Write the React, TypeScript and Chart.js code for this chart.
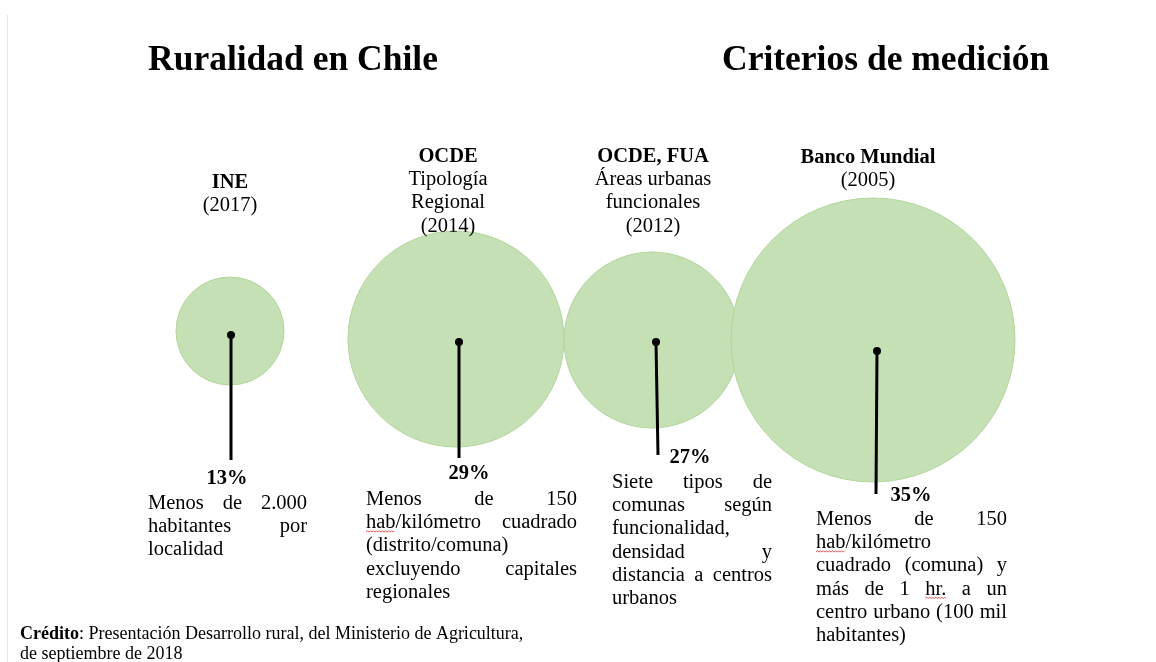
import React, { useEffect, useRef } from "react";
import { Chart, registerables } from "chart.js";

Chart.register(...registerables);

// ---- data ----
const criteria = ["INE", "OCDE", "OCDE, FUA", "Banco Mundial"];
const headingLines = [
  ["(2017)"],
  ["Tipología", "Regional", "(2014)"],
  ["Áreas urbanas", "funcionales", "(2012)"],
  ["(2005)"],
];
const ruralShare = [13, 29, 27, 35];
const descriptions = [
  ["Menos de 2.000", "habitantes por", "localidad"],
  ["Menos de 150", "hab/kilómetro cuadrado", "(distrito/comuna)", "excluyendo capitales", "regionales"],
  ["Siete tipos de", "comunas según", "funcionalidad,", "densidad y", "distancia a centros", "urbanos"],
  ["Menos de 150", "hab/kilómetro", "cuadrado (comuna) y", "más de 1 hr. a un", "centro urbano (100 mil", "habitantes)"],
];
const bubbleX = [230, 456, 652, 873];
const bubbleY = [331, 339, 340, 340];
const bubbleR = [54, 108, 88, 142];
const anchorX = [231, 459, 656, 877];
const anchorY = [335, 342, 342, 351];
const stickEndX = [231, 459, 658, 876];
const stickEndY = [460, 458, 455, 494];

const mainTitle = "Ruralidad en Chile";
const sideTitle = "Criterios de medición";
const creditLabel = "Crédito";
const creditLines = [": Presentación Desarrollo rural, del Ministerio de Agricultura,", "de septiembre de 2018"];

// ---- layout (text placement) ----
const SERIF = "'Liberation Serif', 'Times New Roman', serif";
const headingCenterX = [230, 448, 653, 868];
const headingBaseline = [188, 162, 162, 163];
const percentCenterX = [227, 469, 690, 911];
const percentBaseline = [484, 479, 463, 501];
const descLeft = [148, 366, 612, 816];
const descRight = [307, 577, 772, 1007];
const descBaseline = [509, 505, 488, 525];
const squiggles = [
  [],
  [{ line: 1, word: 0, text: "hab" }],
  [],
  [
    { line: 1, word: 0, text: "hab" },
    { line: 3, word: 3, text: "hr." },
  ],
];

function drawSquiggle(ctx: CanvasRenderingContext2D, x0: number, x1: number, y: number) {
  ctx.save();
  ctx.strokeStyle = "#e04040";
  ctx.lineWidth = 0.9;
  ctx.beginPath();
  let up = true;
  ctx.moveTo(x0, y);
  for (let x = x0 + 1.5; x <= x1; x += 1.5) {
    ctx.lineTo(x, up ? y - 1 : y + 0.5);
    up = !up;
  }
  ctx.stroke();
  ctx.restore();
}

const textPlugin = {
  id: "infographicText",
  beforeDraw(chart: any) {
    const ctx = chart.ctx as CanvasRenderingContext2D;
    ctx.save();
    ctx.fillStyle = "#ffffff";
    ctx.fillRect(0, 0, chart.width, chart.height);
    ctx.strokeStyle = "#e4e4e4";
    ctx.lineWidth = 1;
    ctx.beginPath();
    ctx.moveTo(7.5, 15);
    ctx.lineTo(7.5, chart.height);
    ctx.stroke();
    ctx.restore();
  },
  afterDraw(chart: any) {
    const ctx = chart.ctx as CanvasRenderingContext2D;
    ctx.save();
    ctx.fillStyle = "#000000";
    ctx.textBaseline = "alphabetic";

    // titles
    ctx.font = `bold 35.5px ${SERIF}`;
    ctx.textAlign = "left";
    ctx.fillText(mainTitle, 148, 70);
    ctx.fillText(sideTitle, 722, 70);

    const step = 23.2;
    const body = `20.5px ${SERIF}`;
    const bold = `bold 20.5px ${SERIF}`;

    criteria.forEach((name, i) => {
      // heading
      ctx.textAlign = "center";
      ctx.font = bold;
      ctx.fillText(name, headingCenterX[i], headingBaseline[i]);
      ctx.font = body;
      headingLines[i].forEach((ln, j) => {
        ctx.fillText(ln, headingCenterX[i], headingBaseline[i] + step * (j + 1));
      });

      // percent
      ctx.font = bold;
      ctx.fillText(`${ruralShare[i]}%`, percentCenterX[i], percentBaseline[i]);

      // justified description
      ctx.font = body;
      ctx.textAlign = "left";
      const lines = descriptions[i];
      const left = descLeft[i];
      const width = descRight[i] - descLeft[i];
      lines.forEach((ln, j) => {
        const y = descBaseline[i] + step * j;
        const words = ln.split(" ");
        const positions: number[] = [];
        if (j === lines.length - 1 || words.length === 1) {
          let x = left;
          const sp = ctx.measureText(" ").width;
          words.forEach((w) => {
            positions.push(x);
            x += ctx.measureText(w).width + sp;
          });
        } else {
          const total = words.reduce((s, w) => s + ctx.measureText(w).width, 0);
          const gap = (width - total) / (words.length - 1);
          let x = left;
          words.forEach((w) => {
            positions.push(x);
            x += ctx.measureText(w).width + gap;
          });
        }
        words.forEach((w, k) => ctx.fillText(w, positions[k], y));
        squiggles[i]
          .filter((s) => s.line === j)
          .forEach((s) => {
            const x0 = positions[s.word];
            drawSquiggle(ctx, x0, x0 + ctx.measureText(s.text).width, y + 3.5);
          });
      });
    });

    // credit
    ctx.textAlign = "left";
    ctx.font = `bold 18px ${SERIF}`;
    ctx.fillText(creditLabel, 20, 639);
    const lw = ctx.measureText(creditLabel).width;
    ctx.font = `18px ${SERIF}`;
    ctx.fillText(creditLines[0], 20 + lw, 639);
    ctx.fillText(creditLines[1], 20, 659);
    ctx.restore();
  },
};

export default function App() {
  const canvasRef = useRef<HTMLCanvasElement | null>(null);

  useEffect(() => {
    if (!canvasRef.current) return;
    const chart = new Chart(canvasRef.current, {
      type: "bubble",
      data: {
        datasets: [
          {
            type: "bubble",
            label: "Ruralidad",
            data: bubbleX.map((x, i) => ({ x, y: bubbleY[i], r: bubbleR[i] })),
            backgroundColor: "#c5e0b4",
            borderColor: "#b2d69c",
            borderWidth: 1,
            hoverRadius: 0,
            clip: false,
            order: 2,
          } as any,
          ...criteria.map(
            (c, i) =>
              ({
                type: "line",
                label: c,
                data: [
                  { x: anchorX[i], y: anchorY[i] },
                  { x: stickEndX[i], y: stickEndY[i] },
                ],
                borderColor: "#000000",
                borderWidth: 3,
                pointRadius: [4, 0],
                pointBackgroundColor: "#000000",
                pointBorderWidth: 0,
                fill: false,
                clip: false,
                order: 1,
              } as any)
          ),
        ],
      },
      options: {
        responsive: false,
        animation: false,
        layout: { padding: 0, autoPadding: false } as any,
        plugins: {
          legend: { display: false },
          tooltip: { enabled: false },
          title: { display: false },
        },
        events: [],
        scales: {
          x: { type: "linear", min: 0, max: 1156, display: false },
          y: { type: "linear", min: 0, max: 662, reverse: true, display: false },
        },
      },
      plugins: [textPlugin],
    });
    return () => chart.destroy();
  }, []);

  return (
    <div style={{ position: "absolute", left: 0, top: 0, width: 1156, height: 662 }}>
      <canvas ref={canvasRef} width={1156} height={662} style={{ width: 1156, height: 662, display: "block" }} />
    </div>
  );
}
